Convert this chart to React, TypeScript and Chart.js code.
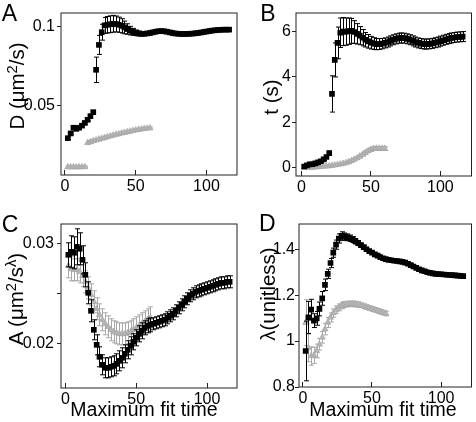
import React, { useEffect, useRef } from "react";
import { Chart, registerables } from "chart.js";

Chart.register(...registerables);

const FONT = "'Liberation Sans', Arial, Helvetica, sans-serif";
Chart.defaults.font.family = FONT;

// ---------- data ----------
const xBlack = [2, 4, 6, 8, 10, 12, 14, 16, 18, 20, 22, 24, 26, 28, 30, 32, 34, 36, 38, 40, 42, 44, 46, 48, 50, 52, 54, 56, 58, 60, 62, 64, 66, 68, 70, 72, 74, 76, 78, 80, 82, 84, 86, 88, 90, 92, 94, 96, 98, 100, 102, 104, 106, 108, 110, 112, 114, 116];
const xGray = [2, 4, 6, 8, 10, 12, 14, 16, 18, 20, 22, 24, 26, 28, 30, 32, 34, 36, 38, 40, 42, 44, 46, 48, 50, 52, 54, 56, 58, 60];

const xTickValues = [0, 50, 100];
const xTickLabels = ["0", "50", "100"];

// Panel A: D (um^2/s)
const dBlack = [
  0.0297, 0.0327, 0.0363, 0.0356, 0.0363, 0.0376, 0.0393, 0.0413, 0.0436, 0.0461,
  0.0728, 0.0885, 0.0965, 0.1008, 0.1012, 0.1015, 0.1018, 0.1017, 0.1012, 0.1005,
  0.0995, 0.0985, 0.0975, 0.0967, 0.0961, 0.0957, 0.0955, 0.0955, 0.0957, 0.096,
  0.0964, 0.0968, 0.0971, 0.0972, 0.0971, 0.0968, 0.0964, 0.096, 0.0957, 0.0955,
  0.0954, 0.0954, 0.0954, 0.0955, 0.0956, 0.0958, 0.096, 0.0963, 0.0966, 0.0969,
  0.0972, 0.0975, 0.0977, 0.0979, 0.098, 0.0981, 0.0981, 0.0981,
];
const dBlackErr = [
  0.0008, 0.0008, 0.0008, 0.0008, 0.0008, 0.0008, 0.0008, 0.0008, 0.0008, 0.0009,
  0.008, 0.006, 0.005, 0.005, 0.0052, 0.0053, 0.0053, 0.005, 0.0048, 0.0045,
  0.004, 0.0033, 0.0027, 0.0022, 0.0018, 0.0015, 0.0013, 0.0012, 0.0012, 0.0012,
  0.0011, 0.0011, 0.0011, 0.0011, 0.0011, 0.0011, 0.0011, 0.0011, 0.0011, 0.0011,
  0.0011, 0.0011, 0.0011, 0.0011, 0.0011, 0.0011, 0.0011, 0.0011, 0.0011, 0.0011,
  0.0011, 0.0011, 0.0011, 0.0011, 0.0011, 0.0011, 0.0011, 0.0011,
];
const dGray = [
  0.0115, 0.0115, 0.0115, 0.0115, 0.0115, 0.0116, 0.0116,
  0.0268, 0.0274, 0.028, 0.0285, 0.029, 0.0295, 0.03, 0.0305, 0.031, 0.0315, 0.032,
  0.0324, 0.0328, 0.0332, 0.0336, 0.034, 0.0344, 0.0348, 0.0351, 0.0354, 0.0357, 0.0359, 0.0361,
];
const dGrayErr = [
  0.0006, 0.0006, 0.0006, 0.0006, 0.0006, 0.0006, 0.0006, 0.0007, 0.0007, 0.0007,
  0.0007, 0.0007, 0.0007, 0.0007, 0.0007, 0.0007, 0.0007, 0.0007, 0.0007, 0.0007,
  0.0007, 0.0007, 0.0007, 0.0007, 0.0007, 0.0007, 0.0007, 0.0007, 0.0007, 0.0007,
];
const dTickValues = [0.05, 0.1];
const dTickLabels = ["0.05", "0.1"];

// Panel B: t (s)
const tBlack = [
  0.05, 0.1, 0.14, 0.15, 0.19, 0.23, 0.28, 0.36, 0.47, 0.64,
  3.25, 4.75, 5.5, 5.95, 6.0, 6.0, 6.02, 6.03, 5.98, 5.9,
  5.82, 5.73, 5.64, 5.57, 5.51, 5.47, 5.45, 5.45, 5.47, 5.5,
  5.54, 5.59, 5.64, 5.68, 5.71, 5.72, 5.71, 5.68, 5.64, 5.59,
  5.54, 5.5, 5.47, 5.45, 5.45, 5.46, 5.48, 5.51, 5.54, 5.58,
  5.62, 5.66, 5.69, 5.72, 5.74, 5.76, 5.77, 5.78,
];
const tBlackErr = [
  0.04, 0.04, 0.04, 0.04, 0.04, 0.05, 0.05, 0.05, 0.06, 0.08,
  0.8, 0.75, 0.7, 0.65, 0.62, 0.6, 0.58, 0.55, 0.5, 0.45,
  0.4, 0.36, 0.32, 0.3, 0.28, 0.26, 0.25, 0.24, 0.23, 0.22,
  0.22, 0.22, 0.22, 0.22, 0.22, 0.22, 0.22, 0.22, 0.22, 0.22,
  0.22, 0.22, 0.22, 0.22, 0.22, 0.22, 0.22, 0.22, 0.22, 0.22,
  0.22, 0.22, 0.22, 0.22, 0.22, 0.22, 0.22, 0.22,
];
const tGray = [
  0.0, 0.0, 0.0, 0.01, 0.02, 0.03, 0.04, 0.05, 0.06, 0.07,
  0.09, 0.11, 0.13, 0.15, 0.18, 0.21, 0.25, 0.3, 0.36, 0.42,
  0.5, 0.58, 0.66, 0.74, 0.8, 0.84, 0.85, 0.85, 0.84, 0.84,
];
const tGrayErr = [
  0.03, 0.03, 0.03, 0.03, 0.03, 0.03, 0.03, 0.03, 0.03, 0.03,
  0.03, 0.03, 0.03, 0.03, 0.03, 0.04, 0.05, 0.05, 0.06, 0.06,
  0.07, 0.07, 0.08, 0.08, 0.08, 0.08, 0.08, 0.08, 0.08, 0.08,
];
const tTickValues = [0, 2, 4, 6];
const tTickLabels = ["0", "2", "4", "6"];

// Panel C: A (um^2/s^lambda)
const aBlack = [
  0.0289, 0.0292, 0.0291, 0.0297, 0.0295, 0.0284, 0.0269, 0.0251, 0.0233, 0.0214,
  0.0199, 0.0187, 0.0179, 0.0176, 0.0176, 0.0177, 0.0178, 0.018, 0.0183, 0.0186,
  0.019, 0.0194, 0.0198, 0.0202, 0.0206, 0.021, 0.0213, 0.0216, 0.0218, 0.0219,
  0.022, 0.0221, 0.0222, 0.0223, 0.0224, 0.0226, 0.0228, 0.023, 0.0233, 0.0236,
  0.0239, 0.0242, 0.0245, 0.0248, 0.025, 0.0252, 0.0253, 0.0254, 0.0255, 0.0256,
  0.0257, 0.0258, 0.0259, 0.026, 0.0261, 0.0261, 0.0262, 0.0262,
];
const aBlackErr = [
  0.0012, 0.0016, 0.0016, 0.0018, 0.0016, 0.0014, 0.0012, 0.0011, 0.0011, 0.001,
  0.001, 0.001, 0.001, 0.001, 0.001, 0.001, 0.001, 0.001, 0.001, 0.001,
  0.0009, 0.0009, 0.0009, 0.0008, 0.0008, 0.0008, 0.0008, 0.0007, 0.0007, 0.0007,
  0.0006, 0.0006, 0.0006, 0.0006, 0.0006, 0.0006, 0.0006, 0.0006, 0.0006, 0.0006,
  0.0006, 0.0006, 0.0006, 0.0006, 0.0006, 0.0006, 0.0006, 0.0006, 0.0006, 0.0006,
  0.0006, 0.0006, 0.0006, 0.0006, 0.0006, 0.0006, 0.0006, 0.0006,
];
const aGray = [
  0.0278, 0.0275, 0.0274, 0.0274, 0.0272, 0.0268, 0.0262, 0.0256, 0.0249, 0.0242,
  0.0235, 0.0229, 0.0224, 0.022, 0.0217, 0.0214, 0.0212, 0.0211, 0.021, 0.021,
  0.021, 0.0211, 0.0212, 0.0214, 0.0216, 0.0218, 0.022, 0.0222, 0.0224, 0.0226,
];
const aGrayErr = [
  0.0012, 0.0012, 0.0011, 0.0011, 0.0011, 0.0011, 0.0011, 0.0011, 0.0011, 0.0011,
  0.0011, 0.0011, 0.0011, 0.0011, 0.0011, 0.0011, 0.0011, 0.0011, 0.0011, 0.0011,
  0.0011, 0.0011, 0.0011, 0.0011, 0.0011, 0.0011, 0.0011, 0.0011, 0.0011, 0.0011,
];
const aTickValues = [0.02, 0.025, 0.03];
const aTickLabels = ["0.02", "", "0.03"];

// Panel D: lambda (unitless)
const lBlack = [
  0.957, 1.103, 1.137, 1.089, 1.099, 1.14, 1.186, 1.245, 1.293, 1.34,
  1.385, 1.42, 1.447, 1.458, 1.455, 1.452, 1.448, 1.442, 1.435, 1.427,
  1.418, 1.409, 1.4, 1.392, 1.385, 1.378, 1.372, 1.366, 1.361, 1.357,
  1.354, 1.352, 1.35, 1.349, 1.347, 1.345, 1.342, 1.337, 1.331, 1.325,
  1.319, 1.313, 1.308, 1.304, 1.3, 1.297, 1.295, 1.293, 1.292, 1.291,
  1.29, 1.289, 1.288, 1.287, 1.286, 1.285, 1.284, 1.283,
];
const lBlackErr = [
  0.13, 0.07, 0.045, 0.03, 0.03, 0.03, 0.03, 0.025, 0.02, 0.02,
  0.02, 0.02, 0.02, 0.018, 0.016, 0.015, 0.014, 0.013, 0.012, 0.011,
  0.008, 0.008, 0.008, 0.007, 0.007, 0.007, 0.006, 0.006, 0.006, 0.006,
  0.006, 0.006, 0.006, 0.006, 0.006, 0.006, 0.006, 0.006, 0.006, 0.006,
  0.006, 0.006, 0.006, 0.006, 0.006, 0.006, 0.006, 0.006, 0.006, 0.006,
  0.006, 0.006, 0.006, 0.006, 0.006, 0.006, 0.006, 0.006,
];
const lGray = [
  1.08, 0.97, 0.935, 0.938, 0.957, 0.986, 1.016, 1.052, 1.081, 1.103,
  1.122, 1.137, 1.147, 1.155, 1.159, 1.161, 1.162, 1.162, 1.161, 1.159,
  1.156, 1.152, 1.148, 1.144, 1.14, 1.136, 1.132, 1.128, 1.124, 1.12,
];
const lGrayErr = [
  0.1, 0.06, 0.04, 0.035, 0.03, 0.025, 0.025, 0.025, 0.022, 0.02,
  0.018, 0.016, 0.015, 0.014, 0.013, 0.012, 0.012, 0.012, 0.012, 0.012,
  0.01, 0.01, 0.01, 0.01, 0.01, 0.01, 0.01, 0.01, 0.01, 0.01,
];
const lTickValues = [0.8, 1, 1.2, 1.4];
const lTickLabels = ["0.8", "1", "1.2", "1.4"];

// ---------- layout ----------
const W = 476;
const H = 422;
const Y_W = 40;
const X_H = 28;

type Panel = {
  left: number; right: number; top: number; bottom: number;
  xMin: number; xMax: number; yMin: number; yMax: number;
  yPad: number;
  blackY: number[]; blackErr: number[]; grayY: number[]; grayErr: number[];
  yTicks: number[]; yLabels: string[];
};

const panels: Panel[] = [
  { left: 61, right: 237, top: 13, bottom: 175, xMin: -2.8, xMax: 121.6, yMin: 0.0065, yMax: 0.1086, yPad: 2,
    blackY: dBlack, blackErr: dBlackErr, grayY: dGray, grayErr: dGrayErr, yTicks: dTickValues, yLabels: dTickLabels },
  { left: 296, right: 475, top: 13, bottom: 176, xMin: -3.9, xMax: 122.4, yMin: -0.37, yMax: 6.82, yPad: 1,
    blackY: tBlack, blackErr: tBlackErr, grayY: tGray, grayErr: tGrayErr, yTicks: tTickValues, yLabels: tTickLabels },
  { left: 61, right: 237, top: 224, bottom: 388, xMin: -3.2, xMax: 121.2, yMin: 0.01558, yMax: 0.03198, yPad: 3,
    blackY: aBlack, blackErr: aBlackErr, grayY: aGray, grayErr: aGrayErr, yTicks: aTickValues, yLabels: aTickLabels },
  { left: 299, right: 475, top: 224, bottom: 387, xMin: -2.8, xMax: 122, yMin: 0.8, yMax: 1.51, yPad: 0,
    blackY: lBlack, blackErr: lBlackErr, grayY: lGray, grayErr: lGrayErr, yTicks: lTickValues, yLabels: lTickLabels },
];

const errorBarPlugin = {
  id: "errorBars",
  beforeDatasetDraw(chart: any, args: any) {
    const ds = chart.data.datasets[args.index];
    if (!ds.errors) return;
    const ys = chart.scales.y;
    const ctx = chart.ctx;
    const cap = 2.5;
    ctx.save();
    ctx.strokeStyle = ds.errorColor;
    ctx.lineWidth = 1;
    ctx.beginPath();
    args.meta.data.forEach((pt: any, i: number) => {
      const v = ds.data[i].y;
      const e = ds.errors[i];
      const x = Math.round(pt.x) + 0.5;
      const y1 = ys.getPixelForValue(v + e);
      const y2 = ys.getPixelForValue(v - e);
      ctx.moveTo(x, y1);
      ctx.lineTo(x, y2);
      ctx.moveTo(x - cap, y1);
      ctx.lineTo(x + cap, y1);
      ctx.moveTo(x - cap, y2);
      ctx.lineTo(x + cap, y2);
    });
    ctx.stroke();
    ctx.restore();
  },
};

const framePlugin = {
  id: "frame",
  beforeDatasetsDraw(chart: any) {
    const { left, top, right, bottom } = chart.chartArea;
    const ctx = chart.ctx;
    ctx.save();
    ctx.strokeStyle = "#222";
    ctx.lineWidth = 1;
    ctx.strokeRect(left, top, right - left, bottom - top);
    ctx.restore();
  },
};

function zeroPad(s: any) {
  s.paddingLeft = 0;
  s.paddingRight = 0;
  s.paddingTop = 0;
  s.paddingBottom = 0;
}

function PanelChart({ p }: { p: Panel }) {
  const ref = useRef<HTMLCanvasElement>(null);
  useEffect(() => {
    if (!ref.current) return;
    const chart = new Chart(ref.current, {
      type: "scatter",
      data: {
        datasets: [
          {
            data: xBlack.map((x, i) => ({ x, y: p.blackY[i] })),
            errors: p.blackErr,
            errorColor: "#000",
            pointStyle: "rect",
            pointRadius: 4,
            backgroundColor: "#000",
            borderColor: "#000",
            borderWidth: 0,
          } as any,
          {
            data: xGray.map((x, i) => ({ x, y: p.grayY[i] })),
            errors: p.grayErr,
            errorColor: "#a8a8a8",
            pointStyle: "triangle",
            pointRadius: 3.7,
            backgroundColor: "#b4b4b4",
            borderColor: "#a0a0a0",
            borderWidth: 0.5,
          } as any,
        ],
      },
      options: {
        responsive: false,
        animation: false,
        events: [],
        layout: {
          padding: {
            left: p.left - Y_W,
            top: p.top,
            right: W - p.right,
            bottom: H - p.bottom - X_H,
          },
        },
        plugins: { legend: { display: false }, tooltip: { enabled: false } },
        scales: {
          x: {
            type: "linear",
            position: "bottom",
            min: p.xMin,
            max: p.xMax,
            afterBuildTicks: (s: any) => {
              s.ticks = xTickValues.map((v) => ({ value: v }));
            },
            afterFit: (s: any) => {
              s.height = X_H;
              zeroPad(s);
            },
            grid: { drawOnChartArea: false, drawTicks: true, tickLength: -5, color: "#222", lineWidth: 1 },
            border: { display: false },
            ticks: {
              padding: 7,
              color: "#000",
              font: { size: 16, family: FONT },
              autoSkip: false,
              maxRotation: 0,
              callback: (_v: any, i: number) => xTickLabels[i],
            },
          },
          y: {
            type: "linear",
            position: "left",
            min: p.yMin,
            max: p.yMax,
            afterBuildTicks: (s: any) => {
              s.ticks = p.yTicks.map((v) => ({ value: v }));
            },
            afterFit: (s: any) => {
              s.width = Y_W;
              zeroPad(s);
            },
            grid: { drawOnChartArea: false, drawTicks: true, tickLength: 4, color: "#222", lineWidth: 1 },
            border: { display: false },
            ticks: {
              padding: p.yPad,
              color: "#000",
              font: { size: 16, family: FONT },
              autoSkip: false,
              callback: (_v: any, i: number) => p.yLabels[i],
            },
          },
        },
      } as any,
      plugins: [errorBarPlugin, framePlugin],
    });
    return () => chart.destroy();
  }, [p]);
  return (
    <canvas
      ref={ref}
      width={W}
      height={H}
      style={{ position: "absolute", left: 0, top: 0, width: W, height: H }}
    />
  );
}

function Txt({ x, y, size, rotate, children }: { x: number; y: number; size: number; rotate?: boolean; children: React.ReactNode }) {
  return (
    <div
      style={{
        position: "absolute",
        left: x,
        top: y,
        fontSize: size,
        lineHeight: 1,
        whiteSpace: "nowrap",
        fontFamily: FONT,
        color: "#000",
        transform: `translate(-50%, -50%)${rotate ? " rotate(-90deg)" : ""}`,
      }}
    >
      {children}
    </div>
  );
}

const supStyle: React.CSSProperties = { fontSize: "0.72em", verticalAlign: "0.45em" };

export default function App() {
  return (
    <div style={{ position: "absolute", left: 0, top: 0, width: W, height: H, background: "#fff", overflow: "hidden" }}>
      {panels.map((p, i) => (
        <PanelChart key={i} p={p} />
      ))}
      <Txt x={9.5} y={13.3} size={23}>A</Txt>
      <Txt x={268} y={12.5} size={23}>B</Txt>
      <Txt x={10} y={224.3} size={23}>C</Txt>
      <Txt x={267.2} y={222.7} size={23}>D</Txt>
      <Txt x={15.5} y={86} size={20.5} rotate>
        D (μm<span style={supStyle}>2</span>/s)
      </Txt>
      <Txt x={271} y={96.5} size={20.5} rotate>t (s)</Txt>
      <Txt x={15} y={298.5} size={20.5} rotate>
        A (μm<span style={supStyle}>2</span>/s<span style={supStyle}>λ</span>)
      </Txt>
      <Txt x={268} y={294} size={20.5} rotate>λ(unitless)</Txt>
      <Txt x={144} y={409.5} size={19.5}>Maximum fit time</Txt>
      <Txt x={383} y={409.5} size={19.5}>Maximum fit time</Txt>
    </div>
  );
}
